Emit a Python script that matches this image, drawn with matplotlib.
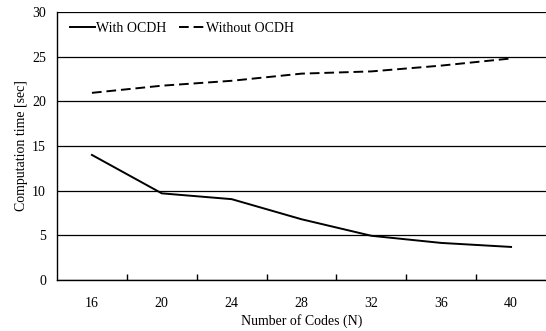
import matplotlib.pyplot as plt
import numpy as np

plt.rcParams['font.family'] = ['Liberation Serif', 'DejaVu Serif']

codes = ['16', '20', '24', '28', '32', '36', '40']
with_ocdh = [14.0, 9.7, 9.05, 6.8, 4.95, 4.15, 3.7]
without_ocdh = [20.95, 21.75, 22.3, 23.1, 23.35, 24.0, 24.8]
y_ticks = [0, 5, 10, 15, 20, 25, 30]

fig = plt.figure(figsize=(5.46, 3.31), dpi=100)
ax = fig.add_axes([57 / 546, 1 - 280 / 331, 489 / 546, 268 / 331])

x = np.arange(len(codes))
ax.plot(x, with_ocdh, color='black', lw=1.4, label='With OCDH')
ax.plot(x, without_ocdh, color='black', lw=1.4, ls=(0, (5, 2.5)), label='Without OCDH')

ax.set_xlim(-0.5, len(codes) - 0.5)
ax.set_ylim(0, 30)
ax.set_yticks(y_ticks)
ax.yaxis.grid(True, color='black', lw=0.9)
ax.set_axisbelow(True)
ax.tick_params(axis='y', length=0, labelsize=10, pad=8)

ax.set_xticks(x)
ax.set_xticklabels(codes)
ax.set_xticks(np.arange(0.5, len(codes) - 1, 1), minor=True)
ax.tick_params(axis='x', which='major', length=0, labelsize=10, pad=12)
ax.tick_params(axis='x', which='minor', direction='in', length=4, width=1)

for s in ['top', 'right']:
    ax.spines[s].set_visible(False)
ax.spines['left'].set_linewidth(1)
ax.spines['bottom'].set_linewidth(1)

ax.set_xlabel('Number of Codes (N)', fontsize=10, labelpad=3)
ax.set_ylabel('Computation time [sec]', fontsize=10, labelpad=3)

ax.legend(loc='upper left', ncol=2, frameon=False, fontsize=10,
          handlelength=1.8, columnspacing=0.9, handletextpad=0.1,
          bbox_to_anchor=(13 / 489, 1 - 10 / 268), borderaxespad=0, borderpad=0)

fig.savefig('out.png', dpi=100)
